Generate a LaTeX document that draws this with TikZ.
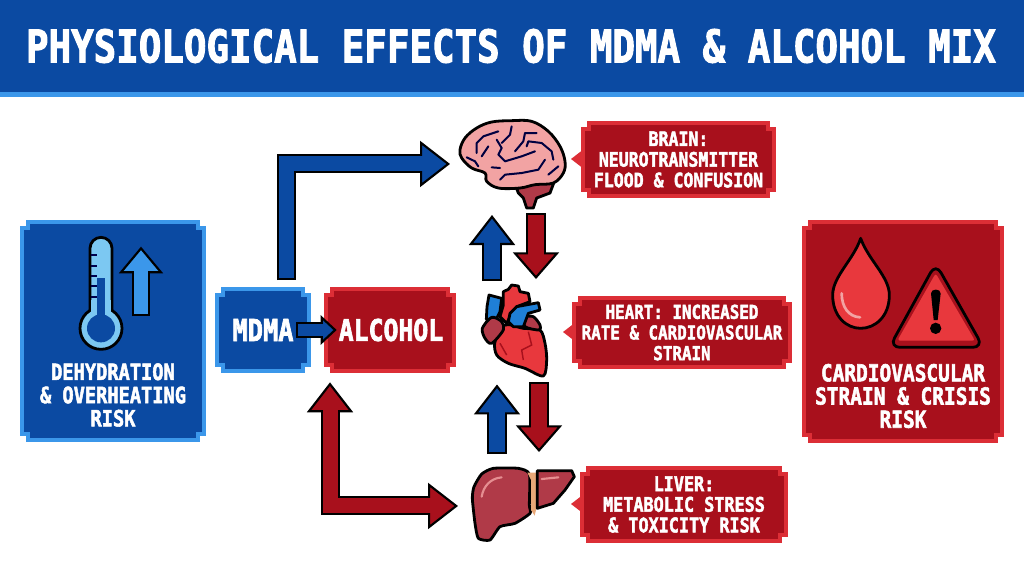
\documentclass[tikz,border=0pt]{standalone}
\usepackage{fontspec}
\setmonofont{DejaVu Sans Mono}[BoldFeatures={FakeBold=2.5}]
\usetikzlibrary{arrows.meta}

\definecolor{panelblue}{HTML}{0B4AA2}
\definecolor{edgeblue}{HTML}{3B97EA}
\definecolor{panelred}{HTML}{A8101C}
\definecolor{edgered}{HTML}{DC2E36}
\definecolor{iconred}{HTML}{E8383D}
\definecolor{skyblue}{HTML}{7CC8F2}
\definecolor{pinkbrain}{HTML}{F2A3A3}
\definecolor{darkorgan}{HTML}{B03A48}
\definecolor{veinblue}{HTML}{1F7FD6}
\definecolor{tan}{HTML}{E8A878}

% Stepped box: fill, edge, name, x0, y0, x1, y1
\newcommand{\pixbox}[7]{
  \draw[line width=2.6pt,draw=#2,fill=#1,line join=miter]
    ({#4+6},#5) -- ({#6-6},#5) -- ({#6-6},{#5+6}) -- (#6,{#5+6})
    -- (#6,{#7-6}) -- ({#6-6},{#7-6}) -- ({#6-6},#7) -- ({#4+6},#7)
    -- ({#4+6},{#7-6}) -- (#4,{#7-6}) -- (#4,{#5+6}) -- ({#4+6},{#5+6}) -- cycle;
  \node[anchorbox,minimum width={(#6-#4)*.75pt},minimum height={(#7-#5)*.75pt}]
    (#3) at ({(#4+#6)/2},{(#5+#7)/2}) {};
}

\tikzset{
  anchorbox/.style={inner sep=0pt,outer sep=0pt},
  label/.style 2 args={align=center,text=white,inner sep=0pt,yscale=1.2,transform shape,
    font=\ttfamily\bfseries\fontsize{#1}{#2}\selectfont},
  blockarrow/.style n args={4}{
    preaction={draw=black,arrows=-,line width=#2+3pt,shorten <=-1.5pt,shorten >=#3-1pt},
    postaction={draw=#1,arrows=-,line width=#2,shorten >=#3-2pt},
    draw=#1,line width=#2,
    -{Triangle[length=#3,width=#4,fill=#1,color=black,line width=1.6pt]}},
  blockboth/.style n args={4}{
    preaction={draw=black,arrows=-,line width=#2+3pt,shorten <=#3-1pt,shorten >=#3-1pt},
    postaction={draw=#1,arrows=-,line width=#2,shorten <=#3-2pt,shorten >=#3-2pt},
    draw=#1,line width=#2,
    {Triangle[length=#3,width=#4,fill=#1,color=black,line width=1.6pt]}-{Triangle[length=#3,width=#4,fill=#1,color=black,line width=1.6pt]}},
  outline/.style={draw=black,line width=2.1pt,line join=round},
  fold/.style={draw=black!75!blue,line width=1.5pt,line cap=round,line join=round},
}

\begin{document}
\begin{tikzpicture}[x=.75pt,y=-.75pt]
  \useasboundingbox (0,0) rectangle (1024,572);

  % Title band
  \fill[edgeblue] (0,88) rectangle (1024,97);
  \fill[panelblue] (0,0) rectangle (1024,92);
  \node[label={28.1}{30}] (title) at (511,46) {PHYSIOLOGICAL EFFECTS OF MDMA \& ALCOHOL MIX};

  % Panels
  \pixbox{panelblue}{edgeblue}{dehyd}{22}{222}{204}{440}
  \pixbox{panelred}{edgered}{crisis}{804}{222}{1002}{441}
  \pixbox{panelblue}{edgeblue}{mdma}{217}{289}{309}{371}
  \pixbox{panelred}{edgered}{alcohol}{326}{289}{454}{371}

  \node[label={14}{14.5}] (dehydtext) at (dehyd |- 0,395) {DEHYDRATION\\\& OVERHEATING\\RISK};
  \node[label={14.6}{14.5}] (crisistext) at (crisis |- 0,396) {CARDIOVASCULAR\\STRAIN \& CRISIS\\RISK};
  \node[label={19}{20}] (mdmatext) at (263,330) {MDMA};
  \node[label={18.6}{20}] (alcoholtext) at (391,330) {ALCOHOL};

  % Callouts
  \fill[edgered] (571,159) -- (584,149) -- (584,169) -- cycle;
  \fill[edgered] (563,332) -- (576,322) -- (576,342) -- cycle;
  \fill[edgered] (571,504) -- (584,494) -- (584,514) -- cycle;
  \pixbox{panelred}{edgered}{brainbox}{583}{123}{774}{196}
  \pixbox{panelred}{edgered}{heartbox}{574}{298}{790}{367}
  \pixbox{panelred}{edgered}{liverbox}{582}{468}{786}{541}

  \node[label={12.4}{12.9}] (braintext) at (brainbox) {BRAIN:\\NEUROTRANSMITTER\\FLOOD \& CONFUSION};
  \node[label={11.9}{12.9}] (hearttext) at (heartbox) {HEART: INCREASED\\RATE \& CARDIOVASCULAR\\STRAIN};
  \node[label={12.6}{12.9}] (livertext) at (liverbox) {LIVER:\\METABOLIC STRESS\\\& TOXICITY RISK};

  % Organ nodes
  \node[anchorbox,minimum width=93pt,minimum height=69.75pt] (brain) at (512,168.5) {};
  \node[anchorbox,minimum width=60pt,minimum height=79.1pt] (heart) at (515,331.75) {};
  \node[anchorbox,minimum width=97.5pt,minimum height=66.75pt] (liver) at (523,496.5) {};

  % Thermometer
  \begin{scope}[shift={(0,200)},x=.25pt,y=-.25pt]
    \draw[outline,fill=skyblue] (270,330) -- (270,145) arc[start angle=180,end angle=360,x radius=33,y radius=33] -- (336,330) -- cycle;
    \draw[outline,fill=skyblue] (303,385) circle[radius=63];
    \fill[skyblue] (274,300) rectangle (332,345);
    \fill[panelblue] (290,235) rectangle (315,350);
    \fill[panelblue] (303,385) circle[radius=42];
    \foreach \tick in {165,197,228,258,290}
      \draw[black!70!blue,line width=1.4pt] (272,\tick) -- (292,\tick);
    \coordinate (thermlow) at (423,342);
    \coordinate (thermhigh) at (423,140);
  \end{scope}

  % Blood drop and warning sign
  \begin{scope}[shift={(790,210)},x=.25pt,y=-.25pt]
    \draw[outline,fill=iconred] (212,85) .. controls (190,150) and (128,200) .. (128,255)
      .. controls (128,320) and (170,355) .. (212,355) .. controls (255,355) and (298,320) .. (298,255)
      .. controls (298,200) and (235,150) .. (212,85) -- cycle;
    \draw[pinkbrain,line width=2pt,line cap=round] (155,250) .. controls (155,290) and (175,320) .. (210,322);
    \draw[outline,fill=panelred,rounded corners=8pt] (437,160) -- (580,412) -- (298,412) -- cycle;
    \fill[iconred,rounded corners=2pt] (437,190) -- (555,392) -- (322,392) -- cycle;
    \fill[black] (423,250) .. controls (423,235) and (452,235) .. (452,250) -- (443,330) -- (431,330) -- cycle;
    \fill[black] (437,355) circle[radius=17];
  \end{scope}

  % Brain
  \begin{scope}[shift={(455,118)},x=.25pt,y=-.25pt]
    \draw[outline,fill=darkorgan] (185,212) -- (230,198) -- (297,193) -- (285,225) -- (245,240)
      -- (235,270) -- (215,270) -- (205,240) -- (190,225) -- cycle;
    \draw[outline,fill=pinkbrain] plot[smooth cycle,tension=.6] coordinates {(15,95) (30,60) (65,30) (110,12) (170,8) (230,10)
      (280,40) (315,85) (330,130) (325,165) (295,195) (240,200) (195,210) (130,210) (95,190) (90,165) (50,150) (20,120)};
    \draw[fold] (35,118) -- (60,130) -- (70,145);
    \draw[fold] (65,105) -- (65,75) -- (85,55) -- (130,40);
    \draw[fold] (80,115) -- (100,85);
    \draw[fold] (125,65) -- (140,90) -- (130,110) -- (150,130) -- (200,115) -- (240,100);
    \draw[fold] (170,25) -- (165,50) -- (140,75);
    \draw[fold] (180,100) -- (205,70) -- (210,45) -- (245,45);
    \draw[fold] (215,85) -- (220,70) -- (260,75) -- (290,100) -- (295,125);
    \draw[fold] (135,185) -- (150,170) -- (200,165) -- (250,155) -- (270,125);
    \draw[fold] (280,170) -- (310,145);
    \draw[fold] (110,148) -- (135,150);
  \end{scope}

  % Heart
  \begin{scope}[shift={(475,280)},x=.25pt,y=-.25pt]
    \draw[outline,fill=veinblue] (42,45) -- (80,55) -- (75,95) -- (60,125) -- (34,118) -- (36,80) -- cycle;
    \draw[outline,fill=iconred] (85,35) -- (100,28) -- (110,15) -- (130,18) -- (135,35) -- (160,40) -- (165,65)
      -- (125,80) -- (105,110) -- (95,130) -- (75,110) -- (85,75) -- cycle;
    \draw[outline,fill=iconred] plot[smooth cycle,tension=.5] coordinates {(60,185) (90,135) (145,145) (195,150) (210,190) (215,240)
      (205,288) (150,265) (100,250) (65,225)};
    \draw[outline,fill=darkorgan] plot[smooth cycle,tension=.5] coordinates {(22,145) (50,112) (80,125) (85,150) (50,190) (30,175)};
    \draw[outline,fill=darkorgan] plot[smooth cycle,tension=.5] coordinates {(148,112) (175,110) (195,135) (192,150) (150,140)};
    \draw[outline,fill=veinblue] (105,100) -- (125,80) -- (190,68) -- (195,90) -- (160,100) -- (145,140) -- (115,140) -- (100,125) -- cycle;
    \draw[panelred,line width=1.1pt] (160,155) -- (170,195) -- (140,210) -- (145,240);
    \draw[panelred,line width=1.1pt] (75,190) -- (95,225);
  \end{scope}

  % Liver
  \begin{scope}[shift={(440,370)},x=.25pt,y=-.25pt]
    \draw[outline,fill=darkorgan] plot[smooth cycle,tension=.35] coordinates {(97,385) (102,350) (125,312) (160,295) (235,295)
      (268,312) (268,405) (270,430) (225,460) (180,470) (150,510) (115,505) (105,460)};
    \fill[tan] (262,308) -- (296,308) -- (288,330) -- (288,420) -- (284,437) -- (273,420) -- (273,330) -- cycle;
    \draw[outline,fill=darkorgan,line join=round] (292,302) -- (395,302) -- (403,320) -- (375,360) -- (340,400) -- (292,415) -- cycle;
    \draw[pinkbrain!80!darkorgan,line width=1.6pt,line cap=round] (125,380) .. controls (130,350) and (150,325) .. (185,322);
    \draw[pinkbrain!80!darkorgan,line width=1.6pt,line cap=round] (305,327) -- (355,322);
  \end{scope}

  % Arrows out of the two substances
  \draw[blockarrow={panelblue}{11.25pt}{22.5pt}{34.5pt}] ([xshift=17.25pt,yshift=8.25pt]mdma.north) |- ([yshift=3.4pt]brain.west);
  \draw[blockboth={panelred}{11.25pt}{22.5pt}{34.5pt}] ([xshift=-45pt,yshift=-8.5pt]alcohol.south) |- ([yshift=-7.1pt]liver.west);
  \draw[blockarrow={panelblue}{8.5pt}{12pt}{22pt}] ([xshift=-8.25pt]mdma.east) -- ([xshift=8pt]alcohol.west);

  % Arrows between the organs
  \draw[blockarrow={panelblue}{12pt}{22.5pt}{34.5pt}] ([xshift=-17.25pt]heart.north) -- ([xshift=-17.25pt]heart.north |- brain.south);
  \draw[blockarrow={panelred}{12pt}{20pt}{34.5pt}] ([xshift=15.75pt]heart.north |- brain.south) -- ([xshift=15.75pt]heart.north);
  \draw[blockarrow={panelblue}{12pt}{22.5pt}{34.5pt}] ([xshift=-13.5pt]liver.north -| heart) -- ([xshift=-13.5pt]heart.south);
  \draw[blockarrow={panelred}{12pt}{20pt}{34.5pt}] ([xshift=18pt]heart.south) -- ([xshift=18pt]liver.north -| heart);

  % Rising temperature
  \draw[blockarrow={edgeblue}{11pt}{20pt}{33pt}] (thermlow) -- (thermhigh);
\end{tikzpicture}
\end{document}
